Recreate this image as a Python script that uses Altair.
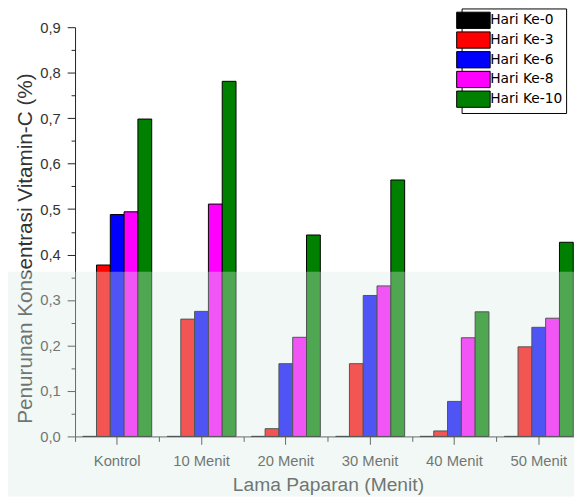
import altair as alt
import pandas as pd

groups = ["Kontrol", "10 Menit", "20 Menit", "30 Menit", "40 Menit", "50 Menit"]
series = ["Hari Ke-0", "Hari Ke-3", "Hari Ke-6", "Hari Ke-8", "Hari Ke-10"]
colors = ["#000000", "#ff0000", "#0000ff", "#ff00ff", "#008000"]

hari0 = [0.0, 0.0, 0.0, 0.0, 0.0, 0.0]
hari3 = [0.377, 0.258, 0.017, 0.160, 0.012, 0.197]
hari6 = [0.488, 0.275, 0.160, 0.310, 0.077, 0.240]
hari8 = [0.494, 0.511, 0.218, 0.331, 0.217, 0.260]
hari10 = [0.698, 0.781, 0.443, 0.564, 0.274, 0.427]

y_major = [0.0, 0.1, 0.2, 0.3, 0.4, 0.5, 0.6, 0.7, 0.8, 0.9]
y_minor = [0.05, 0.15, 0.25, 0.35, 0.45, 0.55, 0.65, 0.75, 0.85]

rows = []
for s, vals in zip(series, [hari0, hari3, hari6, hari8, hari10]):
    for g, v in zip(groups, vals):
        rows.append({"group": g, "series": s, "value": v})
df = pd.DataFrame(rows)

FONT = "Liberation Sans"
TXT = "#333333"
AX = "#222222"

legend_shape = "M-2.06,-1H2.06V1H-2.06Z"

bars = alt.Chart(df).mark_bar(stroke="black", strokeWidth=1).encode(
    x=alt.X(
        "group:N",
        sort=groups,
        scale=alt.Scale(domain=groups, range=[0, 513], paddingInner=0, paddingOuter=0),
        axis=alt.Axis(
            orient="bottom",
            title="Lama Paparan (Menit)",
            labelAngle=0,
            labelFont=FONT,
            labelFontSize=15,
            labelColor=TXT,
            labelPadding=9,
            tickSize=8,
            tickColor=AX,
            domainColor=AX,
            titleFont=FONT,
            titleFontSize=19.5,
            titleFontWeight="normal",
            titleColor=TXT,
            titleBaseline="alphabetic",
            titleY=55,
        ),
    ),
    xOffset=alt.XOffset(
        "series:N",
        sort=series,
        scale=alt.Scale(domain=series, paddingInner=0, paddingOuter=0.5536),
    ),
    y=alt.Y(
        "value:Q",
        scale=alt.Scale(domain=[0, 0.9], nice=False, zero=True),
        axis=alt.Axis(
            orient="left",
            title="Penurunan Konsentrasi Vitamin-C (%)",
            values=y_major,
            labelExpr="replace(format(datum.value, '.1f'), '.', ',')",
            labelFont=FONT,
            labelFontSize=15,
            labelColor=TXT,
            labelPadding=7,
            tickSize=8,
            tickColor=AX,
            domainColor=AX,
            grid=False,
            titleFont=FONT,
            titleFontSize=21,
            titleFontWeight="normal",
            titleColor=TXT,
            titleX=-40,
            titleY=224,
        ),
    ),
    color=alt.Color(
        "series:N",
        sort=series,
        scale=alt.Scale(domain=series, range=colors),
        legend=alt.Legend(
            orient="none",
            legendX=392,
            legendY=-19,
            title=None,
            symbolType=legend_shape,
            symbolSize=272,
            symbolStrokeColor="black",
            symbolStrokeWidth=1,
            symbolOpacity=1,
            labelFont="DejaVu Sans",
            labelFontSize=14,
            labelColor="black",
            labelOffset=8,
            strokeColor="black",
            fillColor="white",
            padding=3,
            rowPadding=-3.8,
        ),
    ),
)

minor = alt.Chart(df).mark_bar(opacity=0).encode(
    x=alt.X(
        "group:N",
        sort=groups,
        axis=alt.Axis(
            orient="bottom",
            bandPosition=0,
            labels=False,
            domain=False,
            tickSize=5,
            tickColor=AX,
            title=None,
        ),
    ),
    y=alt.Y(
        "value:Q",
        axis=alt.Axis(
            orient="left",
            values=y_minor,
            labels=False,
            domain=False,
            tickSize=4,
            tickColor=AX,
            grid=False,
            title=None,
        ),
    ),
)

overlay = alt.Chart(pd.DataFrame({"a": [0]})).mark_rect(
    color="#dcece2", opacity=0.36
).encode(
    x=alt.value(-76), x2=alt.value(506), y=alt.value(248), y2=alt.value(476)
)

chart = (
    alt.layer(bars, minor, overlay)
    .resolve_axis(x="independent", y="independent")
    .properties(
        width=506,
        height=415,
        autosize=alt.AutoSizeParams(type="none"),
        padding={"left": 68, "top": 16, "right": 0, "bottom": 61},
        background="white",
    )
    .configure_view(stroke="transparent")
    .configure_axis(grid=False)
)

chart.save("out.html", embed_options={"renderer": "svg", "actions": False})
